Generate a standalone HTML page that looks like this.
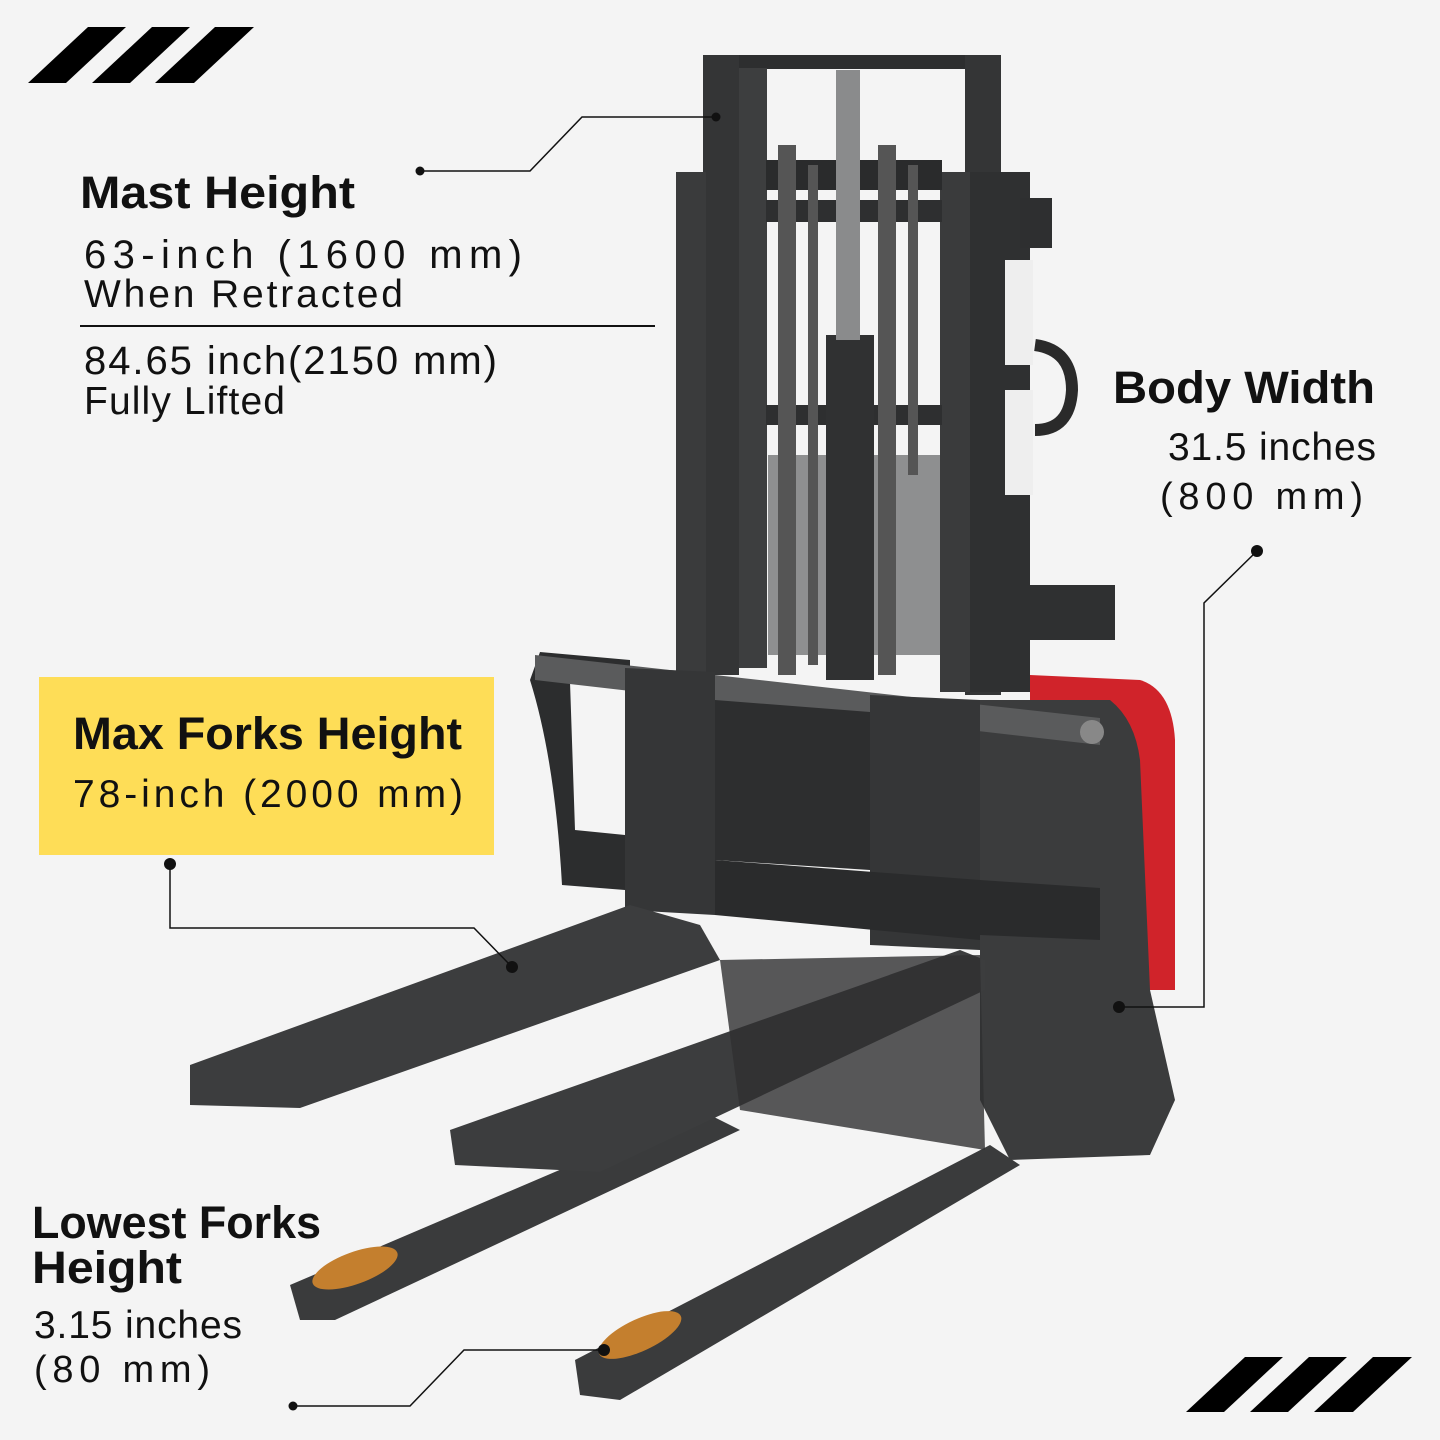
<!DOCTYPE html>
<html><head><meta charset="utf-8"><style>
html,body{margin:0;padding:0;background:#f4f4f4;}
svg{display:block;}
text{font-family:"Liberation Sans",sans-serif;fill:#111;}
</style></head><body>
<svg width="1440" height="1440" viewBox="0 0 1440 1440" xmlns="http://www.w3.org/2000/svg">
<rect width="1440" height="1440" fill="#f4f4f4"/>
<g fill="#000">
<polygon points="28,83 88,27 126,27 66,83"/>
<polygon points="92,83 152,27 190,27 130,83"/>
<polygon points="155,83 215,27 254,27 194,83"/>
<polygon points="1186,1412 1245,1357 1283,1357 1224,1412"/>
<polygon points="1250,1412 1309,1357 1347,1357 1288,1412"/>
<polygon points="1314,1412 1373,1357 1412,1357 1353,1412"/>
</g>
<g>
<rect x="703" y="55" width="298" height="14" fill="#2d2e2f"/>
<rect x="703" y="55" width="36" height="620" fill="#343536"/>
<rect x="965" y="55" width="36" height="640" fill="#343536"/>
<rect x="676" y="172" width="30" height="520" fill="#3a3b3c"/>
<rect x="940" y="172" width="32" height="520" fill="#3a3b3c"/>
<rect x="970" y="172" width="60" height="520" fill="#2f3031"/>
<rect x="739" y="68" width="28" height="600" fill="#3d3e3f"/>
<rect x="766" y="200" width="176" height="22" fill="#2e2f30"/>
<rect x="766" y="405" width="176" height="20" fill="#2e2f30"/>
<rect x="766" y="160" width="176" height="30" fill="#2a2b2c"/>
<rect x="768" y="455" width="172" height="200" fill="#4a4b4c" opacity="0.6"/>
<rect x="826" y="335" width="48" height="345" fill="#303132"/>
<rect x="836" y="70" width="24" height="270" fill="#8a8b8c"/>
<rect x="778" y="145" width="18" height="530" fill="#555"/>
<rect x="808" y="165" width="10" height="500" fill="#555"/>
<rect x="878" y="145" width="18" height="530" fill="#555"/>
<rect x="908" y="165" width="10" height="310" fill="#555"/>
<rect x="1005" y="260" width="28" height="105" fill="#eee"/>
<rect x="1005" y="390" width="28" height="105" fill="#eee"/>
<rect x="1020" y="198" width="32" height="50" fill="#2e2f30"/>
<path d="M1035 345 Q1072 350 1072 390 Q1070 430 1035 430" stroke="#2a2a2a" stroke-width="12" fill="none"/>
<rect x="1030" y="585" width="85" height="55" fill="#2f3031"/>
<path d="M1030 675 L1140 680 Q1172 690 1175 740 L1175 990 L1030 990 Z" fill="#d0232a"/>
<path d="M980 700 L1110 700 Q1135 720 1140 760 L1150 990 L1175 1100 L1150 1155 L1010 1160 L980 1100 Z" fill="#3b3c3d"/>
<path d="M540 652 L630 660 L630 690 L570 682 L575 830 L625 835 L625 890 L562 885 Q555 760 530 680 Z" fill="#2c2d2e"/>
<polygon points="535,655 1100,718 1100,745 535,680" fill="#5a5b5c"/>
<circle cx="1092" cy="732" r="12" fill="#888"/>
<polygon points="625,668 715,672 715,915 625,910" fill="#353637"/>
<polygon points="870,695 980,700 980,950 870,945" fill="#353637"/>
<polygon points="715,860 980,880 980,940 715,915" fill="#2a2b2c"/>
<polygon points="715,700 870,712 870,870 715,860" fill="#2d2e2f"/>
<polygon points="980,880 1100,888 1100,940 980,935" fill="#2a2b2c"/>
<polygon points="290,1285 700,1110 740,1130 335,1320 300,1320" fill="#3a3b3c"/>
<polygon points="575,1360 990,1145 1020,1165 620,1400 580,1395" fill="#3a3b3c"/>
<ellipse cx="355" cy="1268" rx="45" ry="16" fill="#c47f2e" transform="rotate(-20 355 1268)"/>
<ellipse cx="640" cy="1335" rx="45" ry="16" fill="#c47f2e" transform="rotate(-25 640 1335)"/>
<polygon points="190,1065 630,905 700,925 720,960 300,1108 190,1105" fill="#3c3d3e"/>
<polygon points="450,1130 960,950 985,960 985,990 600,1172 455,1165" fill="#3c3d3e"/>
<polygon points="720,960 980,955 985,1150 740,1110" fill="#2f3031" opacity="0.8"/>
</g>
<rect x="39" y="677" width="455" height="178" fill="#fedd57"/>
<g stroke="#111" stroke-width="1.5" fill="none">
<polyline points="420,171 530,171 582,117 716,117"/>
<line x1="80" y1="326" x2="655" y2="326" stroke-width="2"/>
<polyline points="1257,551 1204,603 1204,1007 1119,1007"/>
<polyline points="170,864 170,928 474,928 512,967"/>
<polyline points="293,1406 410,1406 464,1350 604,1350"/>
</g>
<g fill="#111">
<circle cx="420" cy="171" r="4.5"/><circle cx="716" cy="117" r="4.5"/>
<circle cx="1257" cy="551" r="6"/><circle cx="1119" cy="1007" r="6"/>
<circle cx="170" cy="864" r="6"/><circle cx="512" cy="967" r="6"/>
<circle cx="293" cy="1406" r="4.5"/><circle cx="604" cy="1350" r="6"/>
</g>
<text x="80" y="208" font-size="45" font-weight="bold" textLength="275" lengthAdjust="spacingAndGlyphs">Mast Height</text>
<text x="84" y="268" font-size="40" textLength="438" lengthAdjust="spacing">63-inch (1600 mm)</text>
<text x="84" y="307" font-size="39" textLength="319" lengthAdjust="spacing">When Retracted</text>
<text x="84" y="374" font-size="40" textLength="413" lengthAdjust="spacing">84.65 inch(2150 mm)</text>
<text x="84" y="414" font-size="39" textLength="201" lengthAdjust="spacing">Fully Lifted</text>
<text x="1113" y="403" font-size="45" font-weight="bold" textLength="262" lengthAdjust="spacingAndGlyphs">Body Width</text>
<text x="1168" y="460" font-size="39" textLength="208" lengthAdjust="spacing">31.5 inches</text>
<text x="1160" y="509" font-size="38" textLength="203" lengthAdjust="spacing">(800 mm)</text>
<text x="73" y="749" font-size="45" font-weight="bold" textLength="389" lengthAdjust="spacingAndGlyphs">Max Forks Height</text>
<text x="73" y="807" font-size="39" textLength="390" lengthAdjust="spacing">78-inch (2000 mm)</text>
<text x="32" y="1238" font-size="45" font-weight="bold" textLength="289" lengthAdjust="spacingAndGlyphs">Lowest Forks</text>
<text x="32" y="1283" font-size="45" font-weight="bold" textLength="150" lengthAdjust="spacingAndGlyphs">Height</text>
<text x="34" y="1338" font-size="39" textLength="208" lengthAdjust="spacing">3.15 inches</text>
<text x="34" y="1382" font-size="38" textLength="176" lengthAdjust="spacing">(80 mm)</text>
</svg>
</body></html>
